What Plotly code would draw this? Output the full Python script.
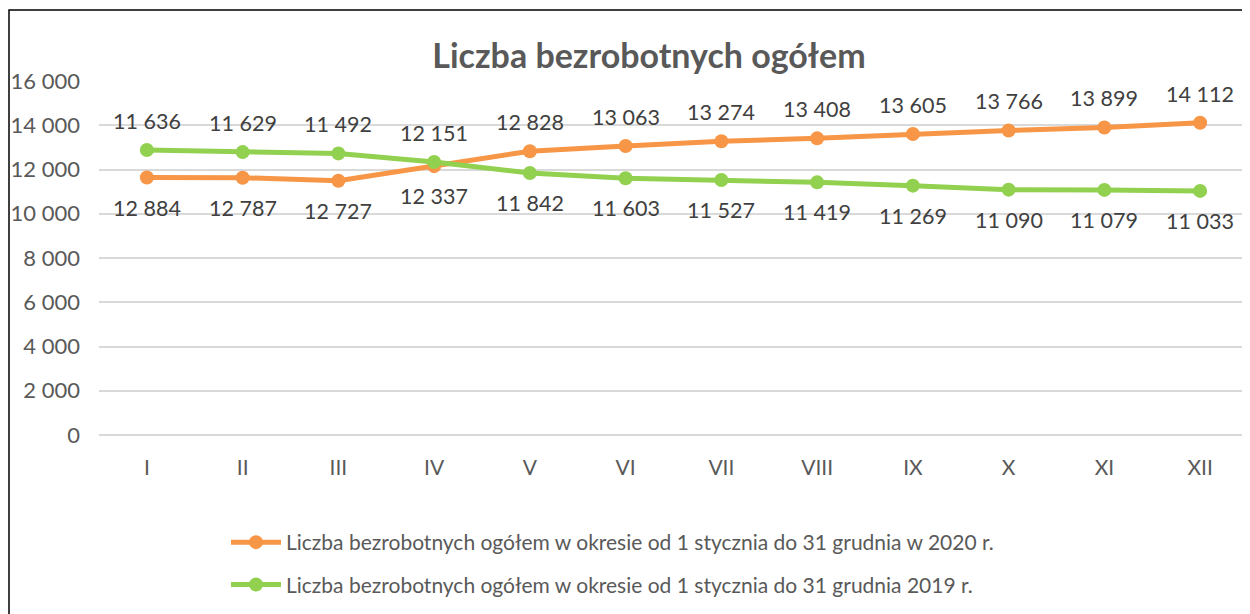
import plotly.graph_objects as go

months = ["I", "II", "III", "IV", "V", "VI", "VII", "VIII", "IX", "X", "XI", "XII"]
y2020 = [11636, 11629, 11492, 12151, 12828, 13063, 13274, 13408, 13605, 13766, 13899, 14112]
y2019 = [12884, 12787, 12727, 12337, 11842, 11603, 11527, 11419, 11269, 11090, 11079, 11033]
ytick_vals = [0, 2000, 4000, 6000, 8000, 10000, 12000, 14000, 16000]

name2020 = "Liczba bezrobotnych ogółem w okresie od 1 stycznia do 31 grudnia w 2020 r."
name2019 = "Liczba bezrobotnych ogółem w okresie od 1 stycznia do 31 grudnia 2019 r."

ORANGE = "#F79646"
GREEN = "#92D050"
GRAY = "#595959"
FONT = "Lato"

OFF = 8  # page body margin
W, H = 1250 - OFF, 614 - OFF
L, R, T, B = 99 - OFF, 2, 81 - OFF, 179

def fmt(v):
    return f"{v:,}".replace(",", " ")

fig = go.Figure()
fig.add_trace(go.Scatter(x=months, y=y2020, name=name2020, mode="lines+markers",
                         line=dict(color=ORANGE, width=5), marker=dict(size=14, color=ORANGE),
                         legendgroup="a"))
fig.add_trace(go.Scatter(x=months, y=y2019, name=name2019, mode="lines+markers",
                         line=dict(color=GREEN, width=5), marker=dict(size=14, color=GREEN),
                         legendgroup="b"))

annotations = []
for m, a, b in zip(months, y2020, y2019):
    annotations.append(dict(x=m, y=max(a, b), text=fmt(a), showarrow=False, yshift=29,
                            font=dict(family=FONT, size=21.5, color="#404040")))
    annotations.append(dict(x=m, y=min(a, b), text=fmt(b), showarrow=False, yshift=-30,
                            font=dict(family=FONT, size=21.5, color="#404040")))

pw = W - L - R
ph = H - T - B
def px_x(p):
    return (p - OFF - L) / pw
def px_y(p):
    return 1 - (p - OFF - T) / ph

fig.update_layout(
    width=W, height=H,
    margin=dict(l=L, r=R, t=T, b=B, autoexpand=False),
    paper_bgcolor="white", plot_bgcolor="white",
    title=dict(text="<b>Liczba bezrobotnych ogółem</b>", xref="paper", x=px_x(649), xanchor="center",
               y=1 - (56 - OFF) / H, yanchor="middle",
               font=dict(family=FONT, size=34, color=GRAY)),
    font=dict(family=FONT, color=GRAY),
    showlegend=True,
    legend=dict(x=px_x(226), xanchor="left", y=px_y(522), yanchor="top",
                font=dict(family=FONT, size=21, color=GRAY), itemwidth=50,
                tracegroupgap=12, bgcolor="rgba(0,0,0,0)"),
    annotations=annotations,
    shapes=[dict(type="rect", xref="paper", yref="paper",
                 x0=px_x(9), x1=px_x(1247), y0=px_y(640), y1=px_y(10),
                 line=dict(color="black", width=1.5), fillcolor="rgba(0,0,0,0)", layer="below")],
)
fig.update_xaxes(type="category", range=[-0.5, 11.5], showgrid=False, showline=False, ticks="",
                 automargin=False,
                 tickfont=dict(family=FONT, size=21, color=GRAY), ticklabelstandoff=18)
fig.update_yaxes(range=[0, 16000], tickvals=ytick_vals, ticktext=[fmt(v) for v in ytick_vals],
                 showgrid=True, gridcolor="#D9D9D9", gridwidth=1.5, zeroline=True, automargin=False,
                 zerolinecolor="#D9D9D9", zerolinewidth=1.5, showline=False, ticks="",
                 tickfont=dict(family=FONT, size=22, color=GRAY), ticklabelstandoff=18)

fig.write_html("out.html")
